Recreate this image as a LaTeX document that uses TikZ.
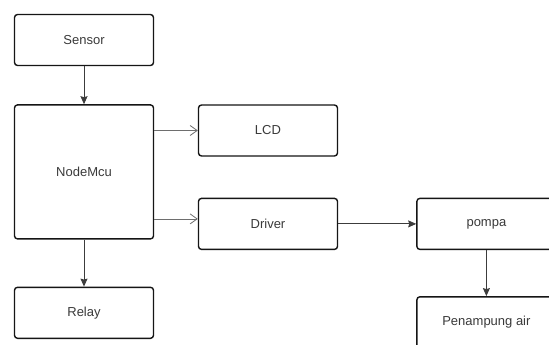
\documentclass[tikz,border=0pt]{standalone}
\usepackage{fontspec}
\setmainfont{Liberation Sans}
\usetikzlibrary{arrows.meta,positioning}
\definecolor{ink}{HTML}{151515}
\definecolor{textgrey}{HTML}{3A3A3A}
\definecolor{wiregrey}{HTML}{3C3C3C}
\definecolor{wirepale}{HTML}{6E6E6E}
\tikzset{
  blok/.style={draw=ink, fill=white, rounded corners=3pt, line width=1.4pt, minimum width=139pt, minimum height=51pt, inner sep=0pt, font=\fontsize{13}{15}\selectfont, text=textgrey},
  blokbesar/.style={blok, minimum height=134pt},
  panah/.style={-{Stealth[length=8pt,width=7pt,inset=1pt]}, line width=0.9pt, wiregrey},
  panahbuka/.style={-{Straight Barb[length=7pt,width=10pt]}, line width=0.8pt, wirepale},
}

\begin{document}
\begin{tikzpicture}[x=1pt, y=-1pt]
  \fill[white] (0,0) rectangle (549,345);
  \clip (0,0) rectangle (549,345);
  \node[blok] (sensor) at (84,40) {Sensor};
  \node[blokbesar, below=38pt of sensor] (nodemcu) {NodeMcu};
  \node[blok, below=47pt of nodemcu] (relay) {Relay};
  \node[blok] (lcd) at (268,130.5) {LCD};
  \node[blok, below=41pt of lcd] (driver) {Driver};
  \node[blok, right=78pt of driver] (pompa) {pompa};
  \node[blok, below=46pt of pompa] (penampung) {Penampung air};
  \draw[panah] (sensor) -- (nodemcu);
  \draw[panah] (nodemcu) -- (relay);
  \draw[panahbuka] (nodemcu.east |- lcd.west) -- (lcd.west);
  \draw[panahbuka] ([yshift=5pt]nodemcu.east |- driver.west) -- ([yshift=5pt]driver.west);
  \draw[panah] (driver) -- (pompa);
  \draw[panah] (pompa) -- (penampung);
\end{tikzpicture}
\end{document}
